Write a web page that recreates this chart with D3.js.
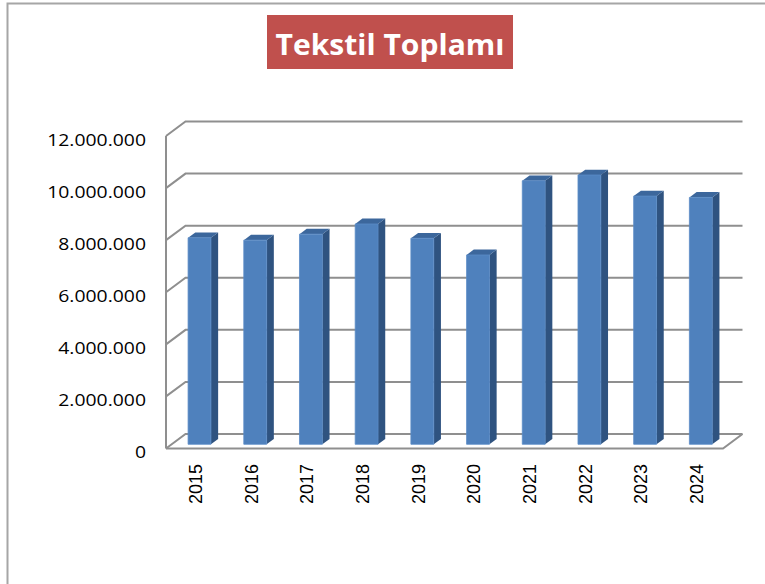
<!DOCTYPE html>
<html>
<head>
<meta charset="utf-8">
<script src="https://cdnjs.cloudflare.com/ajax/libs/d3/7.8.5/d3.min.js"></script>
<style>
  body { margin: 0; background: #fff; }
  svg { display: block; }
</style>
</head>
<body>
<div id="chart"></div>
<script>
// Tekstil Toplamı - 3D column chart

const years = ["2015", "2016", "2017", "2018", "2019", "2020", "2021", "2022", "2023", "2024"];
const totals = [7930000, 7840000, 8070000, 8460000, 7910000, 7270000, 10120000, 10340000, 9530000, 9480000];
const yTicks = [0, 2000000, 4000000, 6000000, 8000000, 10000000, 12000000];
const title = "Tekstil Toplamı";

const W = 765, H = 584;

const svg = d3.select("#chart")
    .append("svg")
    .attr("width", W)
    .attr("height", H);

// outer frame
svg.append("rect")
    .attr("x", 7.5)
    .attr("y", 3.5)
    .attr("width", W + 10)
    .attr("height", H + 10)
    .attr("fill", "#fff")
    .attr("stroke", "#a6a6a6")
    .attr("stroke-width", 2);

// Title box
svg.append("rect")
    .attr("x", 267)
    .attr("y", 15)
    .attr("width", 246)
    .attr("height", 54)
    .attr("fill", "#c0504d");

svg.append("text")
    .attr("x", 390)
    .attr("y", 55)
    .attr("text-anchor", "middle")
    .attr("font-family", "'Open Sans', sans-serif")
    .attr("font-weight", "bold")
    .attr("font-size", 29)
    .attr("fill", "#fff")
    .attr("textLength", 229)
    .attr("lengthAdjust", "spacingAndGlyphs")
    .text(title);

// 3D geometry: front plane + depth vector
const depth = { dx: 19.5, dy: -14.5 };

const x = d3.scaleBand()
    .domain(years)
    .range([166, 723])
    .paddingInner(0.59)
    .paddingOuter(0.295);

const y = d3.scaleLinear()
    .domain([0, 12000000])
    .range([448.5, 136]);

const fmt = d3.formatLocale({ decimal: ",", thousands: ".", grouping: [3], currency: ["", ""] }).format(",d");

const gridColor = "#8f8f8f";
const grid = svg.append("g")
    .attr("fill", "none")
    .attr("stroke", gridColor)
    .attr("stroke-width", 2);

// wall gridlines
yTicks.forEach(v => {
    const y0 = y(v);
    grid.append("path")
        .attr("d", `M${x.range()[0]},${y0} L${x.range()[0] + depth.dx},${y0 + depth.dy} L${x.range()[1] + depth.dx},${y0 + depth.dy}`);
});

// left axis
grid.append("line")
    .attr("x1", x.range()[0]).attr("x2", x.range()[0])
    .attr("y1", y(12000000)).attr("y2", y(0));

// floor front edge
grid.append("path")
    .attr("d", `M${x.range()[0]},${y(0)} L${x.range()[1]},${y(0)} L${x.range()[1] + depth.dx},${y(0) + depth.dy}`);

// y labels (stretched a bit to match the original's wide digits)
svg.append("g")
    .selectAll("text")
    .data(yTicks)
    .join("text")
    .attr("transform", d => `translate(146,${y(d) + 3}) scale(1.14,1)`)
    .attr("text-anchor", "end")
    .attr("dominant-baseline", "central")
    .attr("font-family", "'Open Sans', sans-serif")
    .attr("font-size", 17)
    .attr("fill", "#000")
    .text(d => fmt(d));

// bars
const t0 = 0.29, t1 = 0.66;
const bars = svg.append("g")
    .selectAll("g")
    .data(years.map((yr, i) => ({ yr, v: totals[i] })))
    .join("g");

function pt(px, py, t) {
    return [px + t * depth.dx, py + t * depth.dy];
}

bars.each(function (d) {
    const g = d3.select(this);
    const xl = x(d.yr), xr = x(d.yr) + x.bandwidth();
    const yt = y(d.v), yb = y(0);
    const f = [pt(xl, yt, t0), pt(xr, yt, t0), pt(xr, yb, t0), pt(xl, yb, t0)];
    const b = [pt(xl, yt, t1), pt(xr, yt, t1), pt(xr, yb, t1)];

    // side
    g.append("path")
        .attr("d", `M${f[1]} L${b[1]} L${b[2]} L${f[2]} Z`)
        .attr("fill", "#2f5380");
    // top
    g.append("path")
        .attr("d", `M${f[0]} L${b[0]} L${b[1]} L${f[1]} Z`)
        .attr("fill", "#3c679c");
    // front
    g.append("path")
        .attr("d", `M${f[0]} L${f[1]} L${f[2]} L${f[3]} Z`)
        .attr("fill", "#4f81bd")
        .attr("stroke", "#5a8bc6")
        .attr("stroke-width", 0.8);
});

// x labels
svg.append("g")
    .selectAll("text")
    .data(years)
    .join("text")
    .attr("transform", d => `translate(${x(d) + x.bandwidth() / 2 + 2},464) rotate(-90)`)
    .attr("text-anchor", "end")
    .attr("dominant-baseline", "central")
    .attr("font-family", "'Liberation Sans', Arial, sans-serif")
    .attr("font-size", 18)
    .attr("fill", "#000")
    .text(d => d);
</script>
</body>
</html>
